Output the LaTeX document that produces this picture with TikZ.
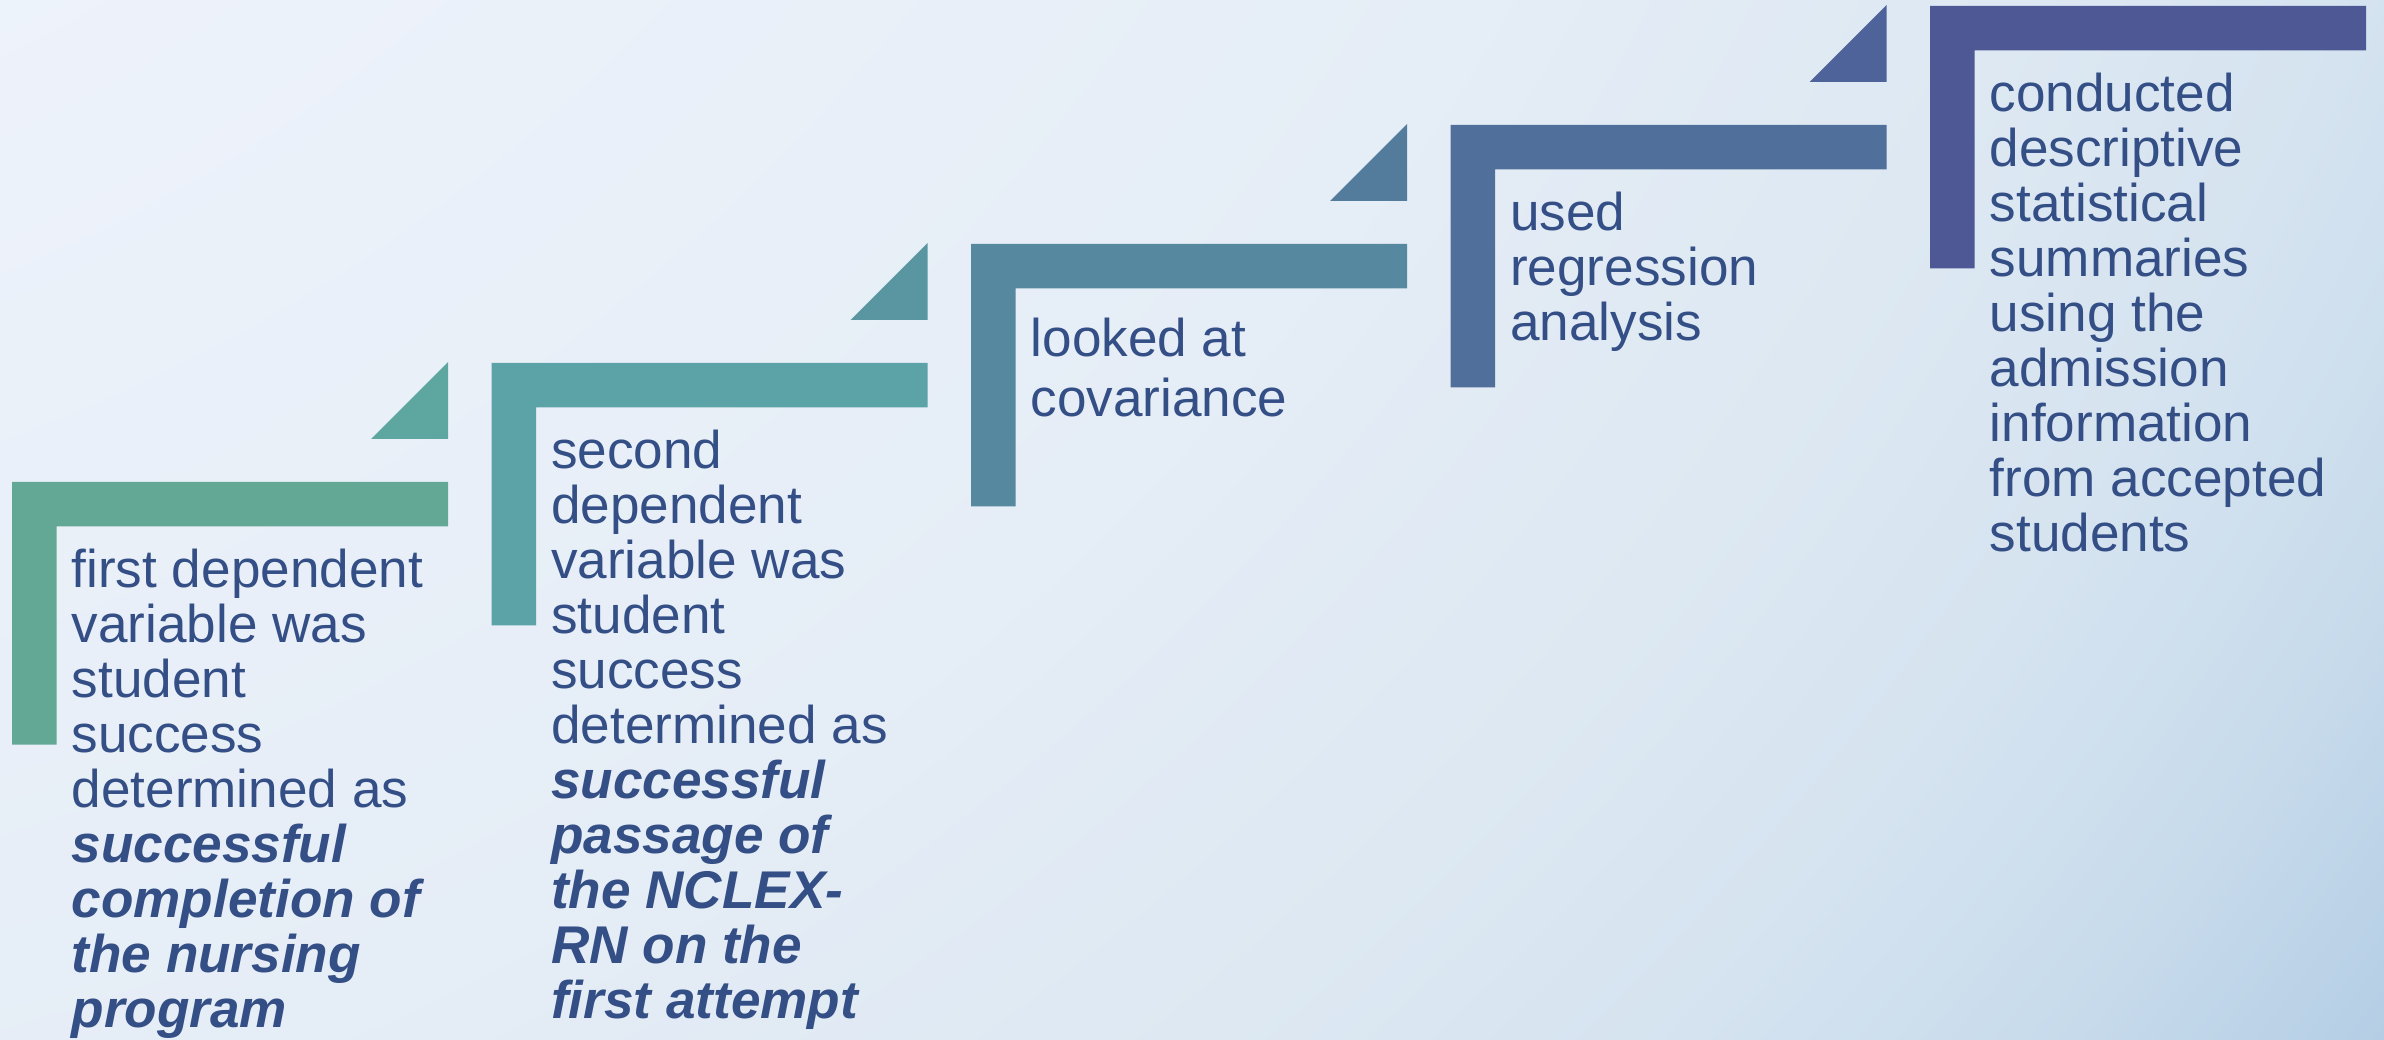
\documentclass[tikz,border=0pt]{standalone}
\usepackage{fontspec}
\setmainfont{Liberation Sans}
\usetikzlibrary{shadings}
\definecolor{bgtop}{RGB}{238,243,251}
\definecolor{bgmid}{RGB}{229,237,246}
\definecolor{bglow}{RGB}{221,232,242}
\definecolor{bgside}{RGB}{213,227,240}
\definecolor{bgedge}{RGB}{201,220,236}
\definecolor{bgcorner}{RGB}{181,206,229}
\pgfdeclareradialshading{backdrop}{\pgfpointorigin}{color(0bp)=(bgtop); color(8bp)=(bgtop); color(15bp)=(bgmid); color(18bp)=(bglow); color(20bp)=(bgside); color(21.5bp)=(bgedge); color(23.3bp)=(bgcorner); color(50bp)=(bgcorner)}
\newcommand\boldit[1]{\textbf{\textit{#1}}}
\begin{document}
\begin{tikzpicture}[x = 0.01cm, y = -0.01cm,
  textbox/.style = {anchor = north west, inner sep = 0pt, align = left, text = textblue, font = \fontsize{15.1pt}{15.65pt}\selectfont}]
\definecolor{textblue}{RGB}{52,78,134}
\pgfmathsetmacro\dx{479.5}
\pgfmathsetmacro\dy{119}
\pgfmathsetmacro\barlen{436}
\pgfmathsetmacro\barhigh{262.5}
\pgfmathsetmacro\thick{44.5}
\useasboundingbox (0,0) rectangle (2384,1040);
\begin{scope}
\clip (0,0) rectangle (2384,1040);
\shade [shading = backdrop] (-600,-1200) circle [radius = 40cm];
\end{scope}
\definecolor{bar0}{RGB}{98,168,149}
\definecolor{bar1}{RGB}{92,163,167}
\definecolor{bar2}{RGB}{86,137,160}
\definecolor{bar3}{RGB}{80,112,155}
\definecolor{bar4}{RGB}{77,88,149}
\definecolor{tri0}{RGB}{94,166,160}
\definecolor{tri1}{RGB}{90,150,161}
\definecolor{tri2}{RGB}{83,123,156}
\definecolor{tri3}{RGB}{78,99,153}
\foreach \i in {0,...,4} \fill [color = bar\i] (12+\dx*\i,482-\dy*\i) -- ++(\barlen,0) -- ++(0,\thick) -- (12+\dx*\i+\thick,482-\dy*\i+\thick) -- (12+\dx*\i+\thick,482-\dy*\i+\barhigh) -- (12+\dx*\i,482-\dy*\i+\barhigh) -- cycle;
\foreach \i in {0,...,3} \fill [color = tri\i] (12+\dx*\i+359,482-\dy*\i-43) -- ++(77,0) -- ++(0,-77) -- cycle;
\node [textbox] (dvone) at (71,548) {first dependent\\variable was\\student\\success\\determined as\\\boldit{successful}\\\boldit{completion of}\\\boldit{the nursing}\\\boldit{program}};
\node [textbox] (dvtwo) at (550.5,429) {second\\dependent\\variable was\\student\\success\\determined as\\\boldit{successful}\\\boldit{passage of}\\\boldit{the NCLEX-}\\\boldit{RN on the}\\\boldit{first attempt}};
\node [textbox, font = \fontsize{15.1pt}{17.07pt}\selectfont] (covar) at (1030,317) {looked at\\covariance};
\node [textbox] (regress) at (1509.5,191) {used\\regression\\analysis};
\node [textbox] (descr) at (1989,72) {conducted\\descriptive\\statistical\\summaries\\using the\\admission\\information\\from accepted\\students};
\end{tikzpicture}
\end{document}
